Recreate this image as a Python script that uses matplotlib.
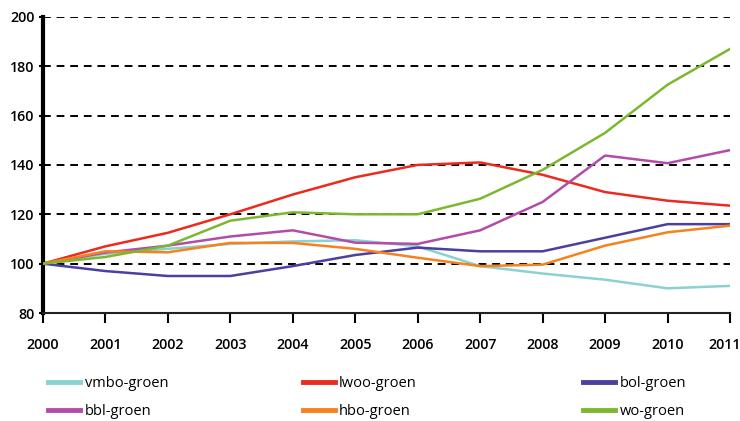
import matplotlib
matplotlib.use("Agg")
import matplotlib.pyplot as plt
import matplotlib.transforms as mtransforms

years = [2000, 2001, 2002, 2003, 2004, 2005, 2006, 2007, 2008, 2009, 2010, 2011]
vmbo = [100, 104, 106, 108, 109, 109.5, 107, 99, 96, 93.5, 90, 91]
lwoo = [100, 107, 112.5, 120, 128, 135, 140, 141, 136, 129, 125.5, 123.5]
bol = [100, 97, 95, 95, 99, 103.5, 106.5, 105, 105, 110.5, 116, 116]
bbl = [100, 104.5, 107.3, 111, 113.5, 108.5, 108, 113.5, 125, 143.8, 140.7, 146]
hbo = [100, 105, 104.6, 108.4, 108.4, 106, 102.4, 99, 99.6, 107.3, 112.7, 115.4]
wo = [100, 102.7, 107.3, 117.4, 120.8, 120, 120, 126.3, 138, 153, 172.5, 187]

series = [
    ("vmbo-groen", vmbo, "#8ad2d2"),
    ("lwoo-groen", lwoo, "#ec2a1e"),
    ("bol-groen", bol, "#4b40a0"),
    ("bbl-groen", bbl, "#b24ca8"),
    ("hbo-groen", hbo, "#f6821f"),
    ("wo-groen", wo, "#7cb82f"),
]
yticks = [80, 100, 120, 140, 160, 180, 200]

plt.rcParams['font.family'] = ['Open Sans', 'DejaVu Sans']

fig = plt.figure(figsize=(7.4, 4.21), dpi=100)
ax = fig.add_axes([0.058, 0.2565, 0.9285, 0.7035])

handles = {}
for name, vals, col in series:
    h, = ax.plot(years, vals, color=col, lw=1.8, label=name, zorder=3)
    handles[name] = h

ax.set_xlim(2000, 2011)
ax.set_ylim(80, 200)
ax.set_yticks(yticks)
ax.set_xticks(years)
for y in yticks[1:]:
    ax.axhline(y, color="black", lw=1.4, ls=(0, (4, 3)), zorder=1)

for s in ["top", "right"]:
    ax.spines[s].set_visible(False)
ax.spines["left"].set_linewidth(3)
ax.spines["left"].set_color("black")
ax.spines["bottom"].set_linewidth(1.5)
ax.spines["bottom"].set_color("#222222")
ax.tick_params(axis="x", direction="out", length=7, width=1.5, pad=11, labelsize=10.3)
ax.tick_params(axis="y", direction="out", length=3, width=1.5, pad=3, labelsize=10.3)
for lbl in ax.get_xticklabels() + ax.get_yticklabels():
    lbl.set_fontweight("semibold")
xl = ax.get_xticklabels()
xl[-1].set_horizontalalignment("right")
xl[-1].set_transform(xl[-1].get_transform() + mtransforms.ScaledTranslation(8/72, 0, fig.dpi_scale_trans))

cols = [("vmbo-groen", "bbl-groen", 0.065), ("lwoo-groen", "hbo-groen", 0.409), ("bol-groen", "wo-groen", 0.788)]
for a, b, x in cols:
    fig.legend([handles[a], handles[b]], [a, b], loc="upper left",
               bbox_to_anchor=(x, 0.107), frameon=False, fontsize=10.5,
               handlelength=2.2, handletextpad=0.3, labelspacing=0.92,
               borderaxespad=0, borderpad=0)
for lh in fig.legends:
    for l in lh.get_lines():
        l.set_linewidth(3.5)

fig.savefig("out.png", dpi=100)
